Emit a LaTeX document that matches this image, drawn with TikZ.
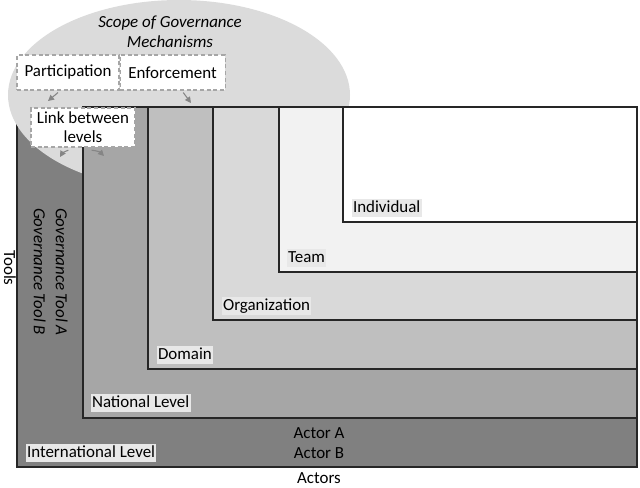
\documentclass[tikz,border=0pt]{standalone}
\usepackage{fontspec}
\setmainfont{Carlito}
\usetikzlibrary{arrows.meta, positioning, fit, shapes.geometric}

\begin{document}
\begin{tikzpicture}[
  x=0.75pt, y=-0.75pt,
  every node/.style={font=\fontsize{12.7}{15}\selectfont},
  level/.style={
    rectangle, draw=black!85, line width=0.8pt, inner sep=0pt
  },
  levellbl/.style={
    fill=black!9, anchor=south west, inner xsep=1pt, inner ysep=1pt,
    text height=9pt, text depth=2.5pt
  },
  mech/.style={
    rectangle, draw=black!35, line width=0.8pt, dash pattern=on 3pt off 2pt,
    fill=white, align=center, inner sep=0pt
  },
  arr/.style={-{Triangle[length=4.5pt, width=4.5pt]}, draw=black!48, line width=0.8pt},
]
\useasboundingbox (0,0) rectangle (640,487);

%% ════════════════════════════════════════════════
%% LEVELS — outside in
%% ════════════════════════════════════════════════

\node[level, fill=black!50, fit={(17,107)(637,467)}] (intl) {};

%% scope ellipse sits over the international level only
\node[ellipse, fill=black!14, inner sep=0pt,
      minimum width=256.5pt, minimum height=142.5pt] (scope) at (179,95) {};

\node[level, fill=black!35, fit={(83,107)(637,418)}] (natl) {};
\node[level, fill=black!25, fit={(148,107)(637,369)}] (domain) {};
\node[level, fill=black!15, fit={(213,107)(637,320)}] (org) {};
\node[level, fill=black!5,  fit={(279,107)(637,272)}] (team) {};
\node[level, fill=white,    fit={(343,107)(637,222)}] (indiv) {};

%% level labels
\node[levellbl] at ([xshift=6.75pt, yshift=3.75pt]intl.south west)   {International Level};
\node[levellbl] at ([xshift=6pt,    yshift=4.5pt]natl.south west)    {National Level};
\node[levellbl] at ([xshift=6.75pt, yshift=3.75pt]domain.south west) {Domain};
\node[levellbl] at ([xshift=6.75pt, yshift=3.75pt]org.south west)    {Organization};
\node[levellbl] at ([xshift=6pt,    yshift=3.75pt]team.south west)   {Team};
\node[levellbl] at ([xshift=6.75pt, yshift=3.75pt]indiv.south west)  {Individual};

%% ════════════════════════════════════════════════
%% GOVERNANCE MECHANISMS
%% ════════════════════════════════════════════════

\node[font=\fontsize{12.7}{15}\selectfont\itshape, align=center] (scopetitle) at (170,32)
  {Scope of Governance\\Mechanisms};

\node[mech, minimum width=76.5pt, minimum height=26.25pt] (part) at (68,72.5) {Participation};
\node[mech, minimum width=78.75pt, minimum height=26.25pt, right=0pt of part] (enf) {Enforcement};
\node[mech, minimum width=78pt, minimum height=29.25pt,
      font=\fontsize{12.7}{14.25}\selectfont] (link) at (83,127.5) {Link between\\levels};

\coordinate (partend) at (48,101);
\coordinate (enfend)  at (191,103);
\coordinate (linkl)   at (60,157);
\coordinate (linkr)   at (104,156);

\draw[arr] ([xshift=-7.5pt, yshift=-1.5pt]part.south) -- (partend);
\draw[arr] ([xshift=8pt, yshift=-1.5pt]enf.south) -- (enfend);
\draw[arr] ([xshift=-11pt, yshift=-2pt]link.south) to[bend right=20] (linkl);
\draw[arr] ([xshift=6.5pt, yshift=-2pt]link.south) to[bend left=20] (linkr);

%% ════════════════════════════════════════════════
%% AXES
%% ════════════════════════════════════════════════

\node[align=center] (actor) at (319,443) {Actor A\\Actor B};
\node[anchor=base, inner sep=1pt] (actors) at (319,483) {Actors};

\node[rotate=-90, anchor=base] (tools) at (4,268) {Tools};
\node[rotate=-90, anchor=north west, align=left, inner sep=0pt,
      font=\fontsize{12.7}{16.5}\selectfont\itshape] (tool) at (68,208)
  {Governance Tool A\\Governance Tool B};

\end{tikzpicture}
\end{document}
